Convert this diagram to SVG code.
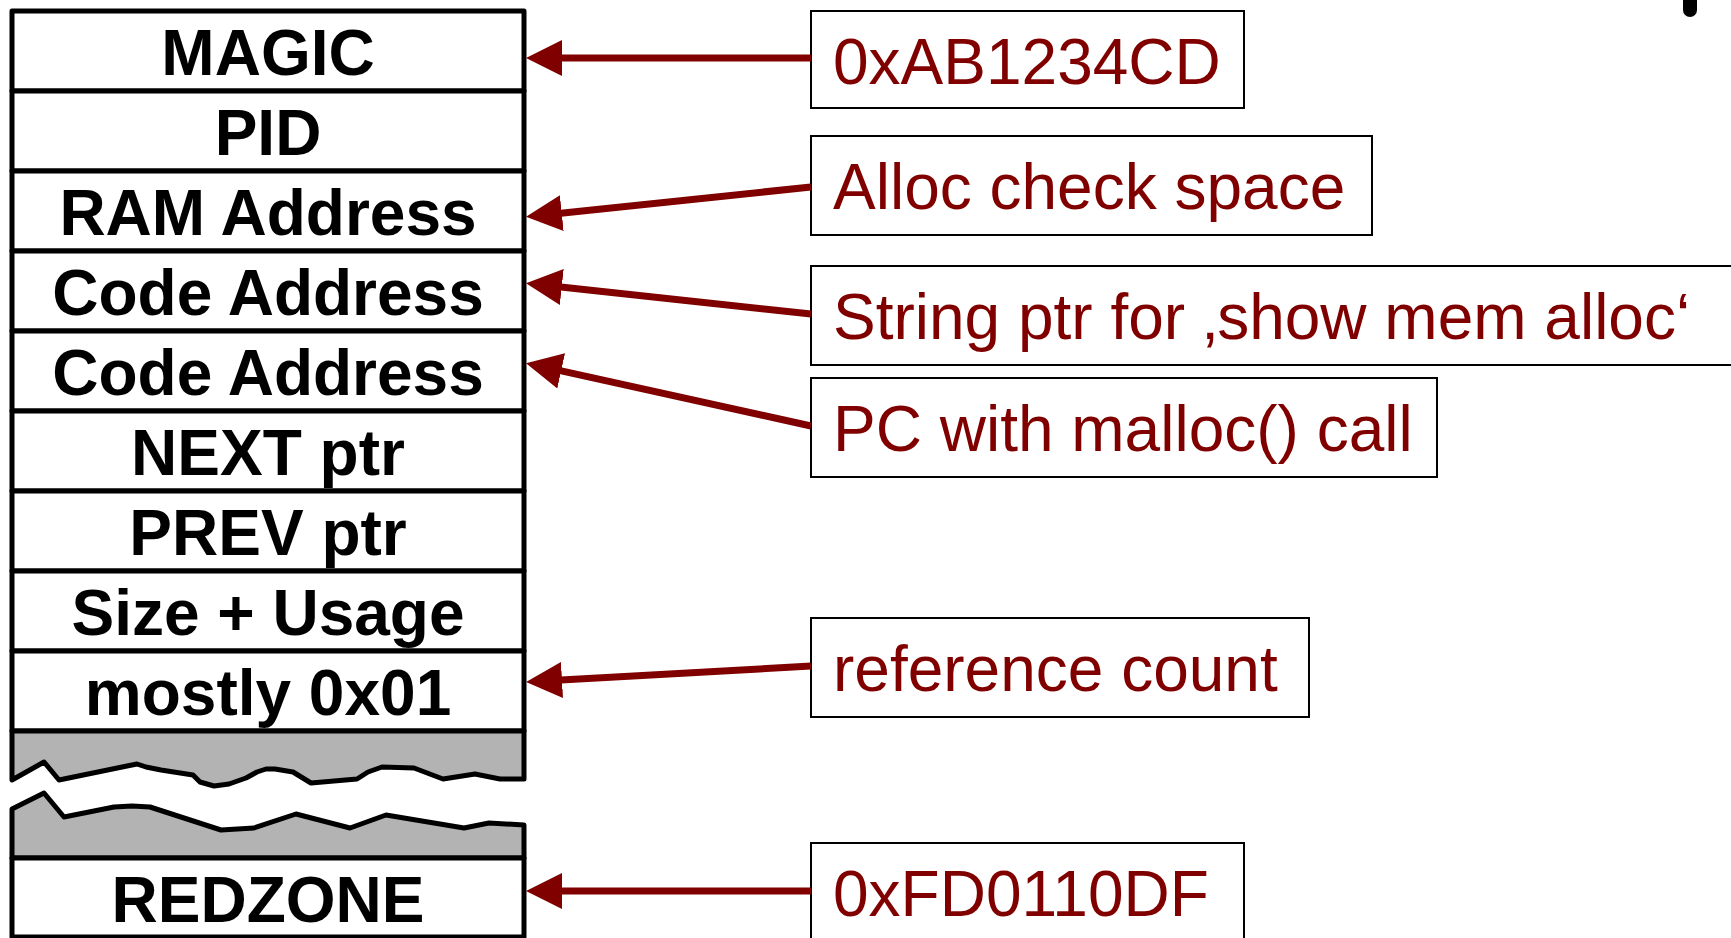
<svg xmlns="http://www.w3.org/2000/svg" width="1731" height="938" viewBox="0 0 1731 938">
<style>
.cell{fill:#ffffff;stroke:#000000;stroke-width:5;stroke-linejoin:round}
.gap{fill:#b3b3b3;stroke:#000000;stroke-width:5;stroke-linejoin:round}
.ct{font-family:"Liberation Sans",Arial,sans-serif;font-weight:bold;font-size:64px;fill:#000000;text-anchor:middle}
.lbox{fill:#ffffff;stroke:#000000;stroke-width:2}
.lt{font-family:"Liberation Sans",Arial,sans-serif;font-size:64px;fill:#800000}
.arr{stroke:#800000;stroke-width:7;fill:none;marker-end:url(#ah)}
</style>
<defs>
<marker id="ah" markerUnits="userSpaceOnUse" markerWidth="36" markerHeight="36" viewBox="0 0 36 36" refX="1" refY="18" orient="auto">
<path d="M0,0 L36,18 L0,36 z" fill="#800000"/>
</marker>
</defs>
<rect width="1731" height="938" fill="#ffffff"/>

<g id="cell-magic"><rect class="cell" x="12" y="11" width="512" height="80"/><text class="ct" x="268" y="75">MAGIC</text></g>
<g id="cell-pid"><rect class="cell" x="12" y="91" width="512" height="80"/><text class="ct" x="268" y="155">PID</text></g>
<g id="cell-ram"><rect class="cell" x="12" y="171" width="512" height="80"/><text class="ct" x="268" y="235">RAM Address</text></g>
<g id="cell-code1"><rect class="cell" x="12" y="251" width="512" height="80"/><text class="ct" x="268" y="315">Code Address</text></g>
<g id="cell-code2"><rect class="cell" x="12" y="331" width="512" height="80"/><text class="ct" x="268" y="395">Code Address</text></g>
<g id="cell-next"><rect class="cell" x="12" y="411" width="512" height="80"/><text class="ct" x="268" y="475">NEXT ptr</text></g>
<g id="cell-prev"><rect class="cell" x="12" y="491" width="512" height="80"/><text class="ct" x="268" y="555">PREV ptr</text></g>
<g id="cell-size"><rect class="cell" x="12" y="571" width="512" height="80"/><text class="ct" x="268" y="635">Size + Usage</text></g>
<g id="cell-refcnt"><rect class="cell" x="12" y="651" width="512" height="80"/><text class="ct" x="268" y="715">mostly 0x01</text></g>

<g id="gap-top">
<path class="gap" d="M12,731 L524,731 L524,779 L500,779 L475,774 L443,779 L414,768 L382,767 L368,772 L357,779 L311,783 L293,772 L275,769 L266,769 L257,772 L246,778 L229,784 L214,786 L200,782 L193,775 L161,770 L146,767 L137,764 L127,766 L59,780 L44,762 L12,780 Z"/>
</g>
<g id="gap-bottom">
<path class="gap" d="M12,809 L44,793 L64,817 L114,807 L132,806 L150,807 L221,830 L254,828 L296,814 L350,828 L386,815 L464,828 L489,823 L524,825 L524,858 L12,858 Z"/>
</g>
<g id="cell-redzone"><rect class="cell" x="12" y="858" width="512" height="79"/><text class="ct" x="268" y="922">REDZONE</text></g>

<g id="label-magic"><rect class="lbox" x="811" y="11" width="433" height="97"/><text class="lt" x="833" y="84">0xAB1234CD</text></g>
<g id="label-alloc"><rect class="lbox" x="811" y="136" width="561" height="99"/><text class="lt" x="833" y="209">Alloc check space</text></g>
<g id="label-string"><rect class="lbox" x="811" y="266" width="940" height="99"/><text class="lt" x="833" y="339">String ptr for ‚show mem alloc‘</text></g>
<g id="label-pc"><rect class="lbox" x="811" y="378" width="626" height="99"/><text class="lt" x="833" y="451">PC with malloc() call</text></g>
<g id="label-ref"><rect class="lbox" x="811" y="618" width="498" height="99"/><text class="lt" x="833" y="691">reference count</text></g>
<g id="label-redzone"><rect class="lbox" x="811" y="843" width="433" height="110"/><text class="lt" x="833" y="916">0xFD0110DF</text></g>

<g id="connectors">
<line class="arr" x1="811" y1="58" x2="561" y2="58"/>
<line class="arr" x1="811" y1="187" x2="560.8" y2="213.2"/>
<line class="arr" x1="811" y1="314" x2="560.8" y2="286.9"/>
<line class="arr" x1="811" y1="426" x2="560.2" y2="370.7"/>
<line class="arr" x1="811" y1="666" x2="561" y2="680"/>
<line class="arr" x1="811" y1="891" x2="561" y2="891"/>
</g>

<g id="corner-mark"><rect x="1683" y="-12" width="14" height="29" rx="7" ry="7" fill="#000000"/></g>
</svg>
